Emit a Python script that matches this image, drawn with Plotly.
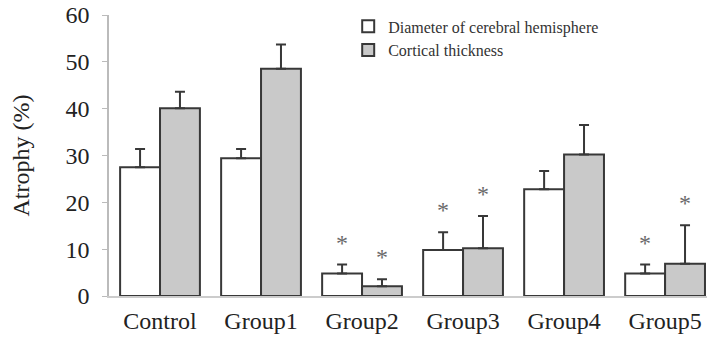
import plotly.graph_objects as go

categories = ["Control", "Group1", "Group2", "Group3", "Group4", "Group5"]
diameter = [27.5, 29.4, 4.8, 9.8, 22.8, 4.8]
diameter_err = [3.9, 2.0, 1.9, 3.8, 3.9, 1.9]
cortical = [40.1, 48.5, 2.1, 10.2, 30.2, 6.9]
cortical_err = [3.5, 5.2, 1.5, 6.9, 6.3, 8.2]
diameter_sig = [False, False, True, True, False, True]
cortical_sig = [False, False, True, True, False, True]
y_ticks = [0, 10, 20, 30, 40, 50, 60]

FONT = "Liberation Serif, Times New Roman, serif"
OUTLINE = "#383838"

fig = go.Figure()
fig.add_trace(go.Bar(
    x=categories, y=diameter, name="Diameter of cerebral hemisphere",
    marker=dict(color="white", line=dict(color=OUTLINE, width=2)),
    error_y=dict(type="data", symmetric=False, array=diameter_err,
                 arrayminus=[0] * len(diameter), color=OUTLINE, thickness=2, width=5),
))
fig.add_trace(go.Bar(
    x=categories, y=cortical, name="Cortical thickness",
    marker=dict(color="#c9c9c9", line=dict(color=OUTLINE, width=2)),
    error_y=dict(type="data", symmetric=False, array=cortical_err,
                 arrayminus=[0] * len(cortical), color=OUTLINE, thickness=2, width=5),
))

annotations = []
for i, c in enumerate(categories):
    if diameter_sig[i]:
        annotations.append(dict(x=c, y=diameter[i] + diameter_err[i], xref="x", yref="y",
                                text="*", showarrow=False, xshift=-20, yshift=22,
                                yanchor="middle", font=dict(family=FONT, size=24, color="#6a6a6a")))
    if cortical_sig[i]:
        annotations.append(dict(x=c, y=cortical[i] + cortical_err[i], xref="x", yref="y",
                                text="*", showarrow=False, xshift=20, yshift=22,
                                yanchor="middle", font=dict(family=FONT, size=24, color="#6a6a6a")))

fig.update_layout(
    width=707, height=337,
    margin=dict(l=109, r=0, t=15, b=41, autoexpand=False),
    paper_bgcolor="white", plot_bgcolor="white",
    barmode="group", bargap=0.21, bargroupgap=0,
    font=dict(family=FONT, color="#222"),
    showlegend=True,
    legend=dict(x=0.40, y=1.02, xanchor="left", yanchor="top",
                font=dict(family=FONT, size=16, color="#333"),
                bgcolor="rgba(0,0,0,0)", tracegroupgap=0),
    annotations=annotations,
)
fig.update_xaxes(
    range=[-0.505, 5.415], showline=True, linecolor="#cccccc", linewidth=2,
    ticks="", showgrid=False, tickfont=dict(family=FONT, size=24, color="#222"),
    ticklabelstandoff=2, automargin=False,
)
fig.update_yaxes(
    range=[0, 60], tickvals=y_ticks, showline=True, linecolor="#bbbbbb", linewidth=1.5,
    ticks="outside", ticklen=5, tickcolor="#bbbbbb", showgrid=False, zeroline=False,
    tickfont=dict(family=FONT, size=24, color="#222"), ticklabelstandoff=8, automargin=False,
    title=dict(text="Atrophy (%)", font=dict(family=FONT, size=24, color="#222"), standoff=29),
)

fig.write_html("out.html", config={"displayModeBar": False},
               post_script="document.body.style.margin='0';")
